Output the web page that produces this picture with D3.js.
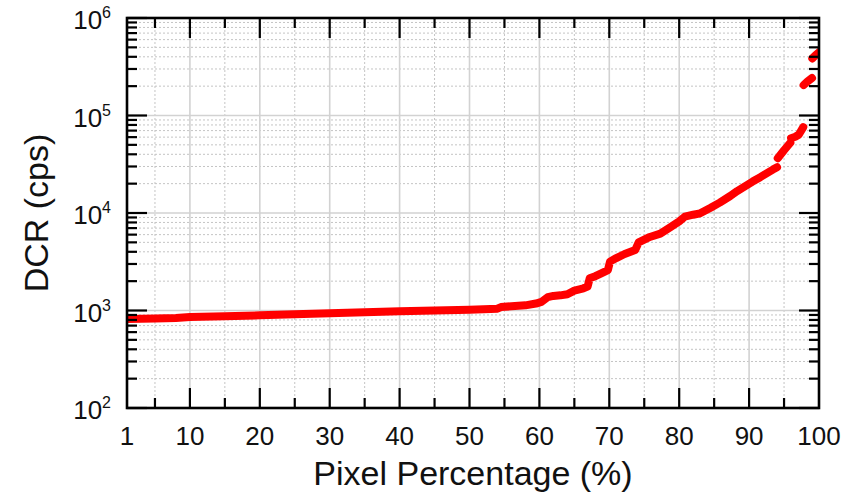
<!DOCTYPE html>
<html>
<head>
<meta charset="utf-8">
<script src="https://cdn.jsdelivr.net/npm/d3@7/dist/d3.min.js"></script>
<style>
html,body{margin:0;padding:0;background:#fff;}
svg{display:block;}
text{font-family:"Liberation Sans",Arial,sans-serif;fill:#111;}
</style>
</head>
<body>
<svg id="chart" width="855" height="494"></svg>
<script>
// ---- data ----
const pct = [1, 3, 5, 8, 10, 15, 20, 25, 30, 35, 40, 45, 50, 52, 54, 54.5, 56, 58, 59.5, 60.3, 61.2, 62, 63, 64, 65, 66.3, 66.9,
  67.2, 68, 68.7, 69.8,
  70.1, 71, 72.2, 73.7,
  74.2, 75.8, 77.3, 78.7, 80, 80.8, 82, 83, 84.5, 85.8, 87.3, 88.3, 89.4, 90.5, 91.6, 92.5, 93.4, 94.0,
  94.1, 95.0, 95.9,
  96.0, 96.6, 97.1, 97.75,
  97.8, 98.4, 99.0,
  99.05, 99.5, 100];
const dcr = [818, 822, 826, 840, 857, 875, 893, 915, 936, 958, 981, 1000, 1019, 1030, 1045, 1085, 1105, 1130, 1178, 1225, 1370, 1410, 1430, 1470, 1600, 1690, 1760,
  2140, 2250, 2380, 2600,
  3170, 3450, 3800, 4170,
  5000, 5680, 6140, 7130, 8200, 9160, 9600, 9930, 11300, 12770, 14940, 16800, 18790, 21000, 23300, 25500, 27900, 29500,
  36500, 44000, 52500,
  58500, 60500, 63500, 76000,
  205000, 225000, 242000,
  385000, 415000, 445000];
const xTickLabels = [1, 10, 20, 30, 40, 50, 60, 70, 80, 90, 100];
const xMajor = [10, 20, 30, 40, 50, 60, 70, 80, 90];
const xMinor = [5, 15, 25, 35, 45, 55, 65, 75, 85, 95];
const yExponents = [2, 3, 4, 5, 6];

// ---- layout ----
const L = 127, R = 819, T = 18, B = 408;
const svg = d3.select("#chart");
const x = d3.scaleLinear().domain([1, 100]).range([L, R]);
const y = d3.scaleLog().domain([1e2, 1e6]).range([B, T]);

const yMajor = yExponents.map(e => Math.pow(10, e));
const yMinor = [];
yExponents.slice(0, -1).forEach(e => { for (let k = 2; k <= 9; k++) yMinor.push(k * Math.pow(10, e)); });

// ---- grid ----
const grid = svg.append("g");
grid.selectAll(".gxm").data(xMinor).join("line")
  .attr("x1", d => x(d)).attr("x2", d => x(d)).attr("y1", T).attr("y2", B)
  .attr("stroke", "#c4c4c4").attr("stroke-width", 1).attr("stroke-dasharray", "2,2");
grid.selectAll(".gym").data(yMinor).join("line")
  .attr("y1", d => y(d)).attr("y2", d => y(d)).attr("x1", L).attr("x2", R)
  .attr("stroke", "#c4c4c4").attr("stroke-width", 1).attr("stroke-dasharray", "2,2");
grid.selectAll(".gxM").data(xMajor).join("line")
  .attr("x1", d => x(d)).attr("x2", d => x(d)).attr("y1", T).attr("y2", B)
  .attr("stroke", "#d2d2d2").attr("stroke-width", 1.6);
grid.selectAll(".gyM").data(yMajor.slice(1, -1)).join("line")
  .attr("y1", d => y(d)).attr("y2", d => y(d)).attr("x1", L).attr("x2", R)
  .attr("stroke", "#d2d2d2").attr("stroke-width", 1.6);

// ---- data line (split where the series jumps) ----
svg.append("clipPath").attr("id", "clip").append("rect")
  .attr("x", L).attr("y", T).attr("width", R - L).attr("height", B - T);
const pts = pct.map((p, i) => ({ p, v: dcr[i] }));
const runs = [[pts[0]]];
for (let i = 1; i < pts.length; i++) {
  const a = pts[i - 1], b = pts[i];
  const slope = (Math.log10(b.v) - Math.log10(a.v)) / (b.p - a.p);
  if (slope > 0.4) runs.push([]);
  runs[runs.length - 1].push(b);
}
const line = d3.line().x(d => x(d.p)).y(d => y(d.v)).curve(d3.curveLinear);
svg.append("g").attr("clip-path", "url(#clip)")
  .selectAll("path").data(runs).join("path")
  .attr("d", d => d.length > 1 ? line(d) : `M${x(d[0].p) - 2},${y(d[0].v)}L${x(d[0].p) + 2},${y(d[0].v)}`)
  .attr("fill", "none").attr("stroke", "#ff0000").attr("stroke-width", 8)
  .attr("stroke-linecap", "round").attr("stroke-linejoin", "round");

// ---- axes ticks (inward) ----
const tickG = svg.append("g").attr("stroke", "#000").attr("stroke-width", 2.2);
function xTicks(vals, len) {
  vals.forEach(v => {
    tickG.append("line").attr("x1", x(v)).attr("x2", x(v)).attr("y1", B).attr("y2", B - len);
    tickG.append("line").attr("x1", x(v)).attr("x2", x(v)).attr("y1", T).attr("y2", T + len);
  });
}
function yTicks(vals, len) {
  vals.forEach(v => {
    tickG.append("line").attr("y1", y(v)).attr("y2", y(v)).attr("x1", L).attr("x2", L + len);
    tickG.append("line").attr("y1", y(v)).attr("y2", y(v)).attr("x1", R).attr("x2", R - len);
  });
}
xTicks(xMajor, 20); xTicks(xMinor, 10);
yTicks(yMajor, 20); yTicks(yMinor, 10);

// frame
svg.append("rect").attr("x", L).attr("y", T).attr("width", R - L).attr("height", B - T)
  .attr("fill", "none").attr("stroke", "#000").attr("stroke-width", 2.6);

// ---- tick labels ----
svg.append("g").selectAll("text").data(xTickLabels).join("text")
  .attr("x", d => x(d)).attr("y", 445).attr("text-anchor", "middle")
  .attr("font-size", 26).text(d => d);

const yl = svg.append("g").selectAll("text").data(yExponents).join("text")
  .attr("x", 111).attr("y", d => y(Math.pow(10, d)) + 11).attr("text-anchor", "end");
yl.append("tspan").attr("font-size", 26).text("10");
yl.append("tspan").attr("font-size", 16).attr("dy", -11).text(d => d);

// ---- axis titles ----
svg.append("text").attr("x", (L + R) / 2).attr("y", 485).attr("text-anchor", "middle")
  .attr("font-size", 34).text("Pixel Percentage (%)");
svg.append("text").attr("transform", `translate(48,${(T + B) / 2}) rotate(-90)`)
  .attr("text-anchor", "middle").attr("font-size", 34).text("DCR (cps)");
</script>
</body>
</html>
